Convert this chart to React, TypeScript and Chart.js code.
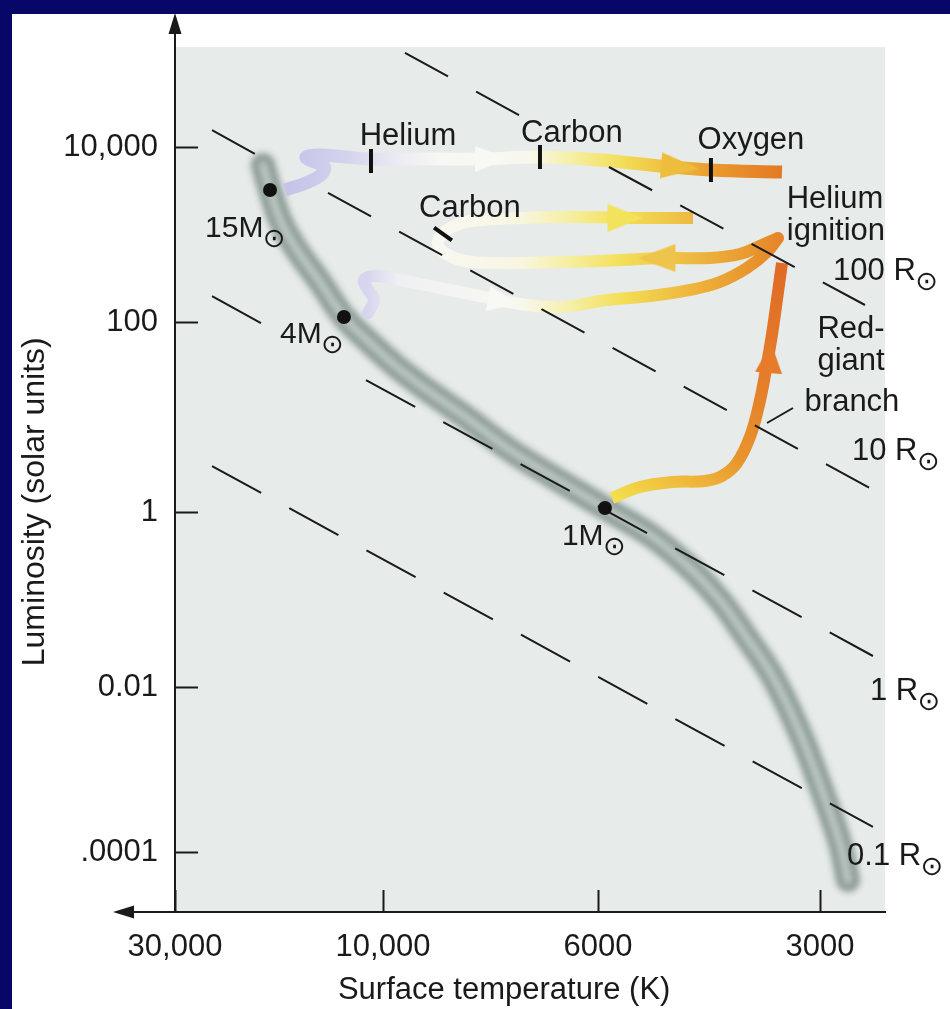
import React, { useEffect, useRef } from 'react';
import { Chart, registerables } from 'chart.js';

Chart.register(...registerables);

// ---------- axis ticks (values and labels) ----------
const X_TICK_T = [30000, 10000, 6000, 3000];
const X_TICK_LABELS = ['30,000', '10,000', '6000', '3000'];
const Y_TICK_L = [10000, 100, 1, 0.01, 0.0001];
const Y_TICK_LABELS = ['10,000', '100', '1', '0.01', '.0001'];
const X_TITLE = 'Surface temperature (K)';
const Y_TITLE = 'Luminosity (solar units)';

// ---------- data: [surface temperature K, luminosity L☉] ----------
type Pt = [number, number] | null;

const MAIN_SEQUENCE: Pt[] = [
  [18850, 6230], [18160, 3226], [17140, 1390], [15750, 665], [13950, 287], [12290, 114],
  [10880, 64.6], [9673, 33.6], [8945, 18.3], [8192, 9.76], [7395, 4.49], [6676, 2.34],
  [5871, 1.1], [5054, 0.518], [4503, 0.229], [4101, 0.0987], [3793, 0.0393], [3474, 0.013],
  [3194, 0.00277], [2973, 0.000519], [2819, 0.0001285], [2749, 0.0000458],
];

const STAR_MASS_LABELS = ['15M', '4M', '1M'];
const STAR_T = [18160, 12290, 5871];
const STAR_L = [3226, 114, 1.1];

const TRACK_15: Pt[] = [
  [16780, 3226], [15020, 3878], [13800, 4914], [13655, 6066], [14550, 6918], [15020, 7688],
  [13950, 8102], [12220, 7688], [10655, 7293], [9160, 7293], [7942, 7293], [6887, 7688],
  [5963, 7103], [4944, 6066], [4217, 5460], [3378, 5179],
];

const TRACK_4_OUT: Pt[] = [
  [10825, 126.7], [10487, 178.4], [10882, 244.7], [11056, 302], [10432, 335.6], [9604, 302],
  [8735, 244.7], [7942, 198.2], [7222, 160.6], [6566, 148.4], [5834, 178.4], [5101, 198.2],
  [4502, 232.2], [4101, 286.6], [3769, 414], [3540, 631], [3420, 912],
];

const TRACK_4_LOOP: Pt[] = [
  [3420, 912], [3596, 758.6], [3852, 598.6], [4230, 538.8], [4777, 538.8], [5263, 524.8],
  [5963, 497.9], [6566, 485], [7574, 472.4], [8231, 497.9], [8610, 598.6], [8776, 758.6],
  [8714, 961.3], [8489, 1218], [8115, 1427], [7222, 1544], [6398, 1585], [5263, 1544], [4460, 1544],
];

const TRACK_1_RGB: Pt[] = [
  [5743, 1.404], [5263, 1.833], [4762, 2.069], [4296, 2.12], [4075, 2.393], [3888, 3.28],
  [3734, 6.158], [3630, 13.37], [3552, 31.23], [3486, 72.96], [3432, 178.4], [3378, 472.4],
];

const BURN_LABELS = ['Helium', 'Carbon', 'Oxygen', 'Carbon'];
const BURN_T = [10655, 6887, 4217, 8672];
const BURN_L = [6918, 7688, 5460, 1013];
const BURN_LABEL_T = [9424, 6384, 3722, 8134];
const BURN_LABEL_L = [10540, 11407, 9487, 1585];

const ARROW_T = [7719, 4645, 5515, 4991, 7520, 3508];
const ARROW_L = [7293, 5908, 1544, 538.8, 173.8, 41.79];

const RADIUS_LABELS = ['100 R', '10 R', '1 R', '0.1 R'];
const RADIUS_LABEL_T = [2880, 2715, 2567, 2757];
const RADIUS_LABEL_L = [302, 3.527, 0.006959, 0.0000696];
const RADIUS_100: Pt[] = [[9491, 118700], [7239, 23210], null, [5798, 5908], [2607, 156.4]];
const RADIUS_10: Pt[] = [[24670, 15640], [19660, 8318], null, [13370, 2981], [2567, 1.789]];
const RADIUS_1: Pt[] = [[24670, 198.2], [19050, 97.6], null, [10940, 24.51], [2543, 0.02261]];
const RADIUS_01: Pt[] = [[24670, 3.049], [2543, 0.000201]];

const NOTE_TEXTS = ['Helium', 'ignition', 'Red-', 'giant', 'branch'];
const NOTE_T = [2863, 2854, 2723, 2723, 2715];
const NOTE_L = [2009, 865, 67.8, 31.2, 11.56];
const LEADER: Pt[] = [[3264, 12.44], [3540, 8.647]];

const STAR_LABEL_T = [25600, 17230, 6537];
const STAR_LABEL_L = [936, 60.1, 0.4196];

// ---------- layout (axis units, not data) ----------
const X_TICK_POS = [0, 208, 423, 645];
const X_MAX = 710;
const Y_TICK_POS = [765, 590, 400, 225, 60];
const Y_MAX = 865;

const FONT = '"Liberation Sans", Arial, Helvetica, sans-serif';
const INK = '#1a1a1a';

function interp(v: number, keys: number[], pos: number[]) {
  const lv = Math.log10(v);
  const lk = keys.map((k) => Math.log10(k));
  let i = 0;
  while (i < lk.length - 2 && lv < lk[i + 1]) i++;
  const t = (lv - lk[i]) / (lk[i + 1] - lk[i]);
  return pos[i] + t * (pos[i + 1] - pos[i]);
}
const xPos = (T: number) => interp(T, X_TICK_T, X_TICK_POS);
const yPos = (L: number) => interp(L, Y_TICK_L, Y_TICK_POS);
const toXY = (pts: Pt[]) =>
  pts.map((p) => (p ? { x: xPos(p[0]), y: yPos(p[1]) } : { x: 0, y: null as any }));

type Stop = [number, string];
const TOP_STOPS: Stop[] = [
  [16340, '#c5c4e8'], [12220, '#d3d2ee'], [9604, '#ececf3'], [8735, '#f7f7f4'], [7053, '#f8f7ee'],
  [6414, '#f6efa6'], [5602, '#f3df5a'], [4792, '#eebd3c'], [4101, '#e9962c'], [3378, '#e47a24'],
];
const OUT_STOPS: Stop[] = [
  [10940, '#d6d4ee'], [9604, '#f0f0f4'], [7222, '#f8f8f0'], [6414, '#f6efa8'], [5602, '#f3df58'],
  [4502, '#eeb63c'], [3852, '#ea9a2f'], [3420, '#e6862a'],
];
const LOOP_STOPS: Stop[] = [
  [8776, '#f8f8f2'], [7222, '#f8f6e0'], [6414, '#f6eea0'], [5602, '#f3e05a'], [4792, '#efc648'],
  [4230, '#ecae3c'], [3769, '#e99a30'], [3420, '#e6862a'],
];
const RGB_STOPS: [number, string][] = [
  [0, '#f3e04c'], [0.22, '#eeb43a'], [0.37, '#e8942e'], [0.6, '#e5802a'], [1, '#e06a26'],
];
const ARROW_COLORS = ['#f8f8f4', '#efbd3d', '#f3e35c', '#efc44a', '#f8f8f4', '#e67c2a'];
const ARROW_ROT = [0, 5, 0, 180, 10, -85];
const ARROW_LEN = [34, 38, 35, 37, 30, 30];
const ARROW_WID = [26, 26, 28, 28, 26, 27];

function gradX(chart: any, stops: Stop[]) {
  const { ctx, chartArea, scales } = chart;
  if (!chartArea || !scales.x) return stops[0][1];
  const xs = stops.map((s) => scales.x.getPixelForValue(xPos(s[0])));
  const x0 = xs[0];
  const x1 = xs[xs.length - 1];
  const g = ctx.createLinearGradient(x0, 0, x1, 0);
  stops.forEach((s, i) => g.addColorStop(Math.min(1, Math.max(0, (xs[i] - x0) / (x1 - x0))), s[1]));
  return g;
}
function gradAlong(chart: any, pts: Pt[], stops: [number, string][]) {
  const { ctx, chartArea, scales } = chart;
  if (!chartArea || !scales.x) return stops[0][1];
  const a = pts[0] as [number, number];
  const b = pts[pts.length - 1] as [number, number];
  const g = ctx.createLinearGradient(
    scales.x.getPixelForValue(xPos(a[0])), scales.y.getPixelForValue(yPos(a[1])),
    scales.x.getPixelForValue(xPos(b[0])), scales.y.getPixelForValue(yPos(b[1])),
  );
  stops.forEach((s) => g.addColorStop(s[0], s[1]));
  return g;
}

function makeArrow(color: string, len: number, wid: number) {
  const s = Math.ceil(Math.max(len, wid)) + 4;
  const c = document.createElement('canvas');
  c.width = s;
  c.height = s;
  const g = c.getContext('2d')!;
  g.fillStyle = color;
  g.beginPath();
  g.moveTo(s / 2 + len / 2, s / 2);
  g.lineTo(s / 2 - len / 2, s / 2 - wid / 2);
  g.lineTo(s / 2 - len / 2, s / 2 + wid / 2);
  g.closePath();
  g.fill();
  return c;
}

const backgroundPlugin = {
  id: 'bg',
  beforeDraw(chart: any) {
    const { ctx, chartArea: a, width, height } = chart;
    ctx.save();
    ctx.fillStyle = '#07076a';
    ctx.fillRect(0, 0, width, height);
    ctx.fillStyle = '#ffffff';
    ctx.fillRect(12, 14, width - 12, height - 14);
    ctx.fillStyle = '#e7ebe9';
    ctx.fillRect(a.left, a.top, a.right - a.left, a.bottom - a.top);
    ctx.restore();
  },
  afterDraw(chart: any) {
    const { ctx, chartArea: a } = chart;
    ctx.save();
    ctx.strokeStyle = INK;
    ctx.fillStyle = INK;
    ctx.lineWidth = 2;
    ctx.beginPath();
    ctx.moveTo(a.left, a.top);
    ctx.lineTo(a.left, 30);
    ctx.moveTo(a.left, a.bottom);
    ctx.lineTo(130, a.bottom);
    ctx.stroke();
    ctx.beginPath();
    ctx.moveTo(a.left, 13);
    ctx.lineTo(a.left - 6.5, 34);
    ctx.lineTo(a.left + 6.5, 34);
    ctx.closePath();
    ctx.fill();
    ctx.beginPath();
    ctx.moveTo(113, a.bottom);
    ctx.lineTo(134, a.bottom - 6.5);
    ctx.lineTo(134, a.bottom + 6.5);
    ctx.closePath();
    ctx.fill();
    ctx.restore();
  },
};

const blurPlugin = {
  id: 'blur',
  beforeDatasetDraw(chart: any, args: any) {
    const ds = chart.data.datasets[args.index];
    if (ds.blur) {
      chart.ctx.save();
      chart.ctx.filter = `blur(${ds.blur}px)`;
    }
  },
  afterDatasetDraw(chart: any, args: any) {
    const ds = chart.data.datasets[args.index];
    if (ds.blur) chart.ctx.restore();
  },
};

const labelPlugin = {
  id: 'labels',
  afterDatasetsDraw(chart: any) {
    const { ctx, scales } = chart;
    const px = (T: number) => scales.x.getPixelForValue(xPos(T));
    const py = (L: number) => scales.y.getPixelForValue(yPos(L));
    ctx.save();
    ctx.fillStyle = INK;
    ctx.textBaseline = 'alphabetic';
    ctx.textAlign = 'center';
    ctx.font = `31px ${FONT}`;
    BURN_LABELS.forEach((t, i) => ctx.fillText(t, px(BURN_LABEL_T[i]), py(BURN_LABEL_L[i])));
    NOTE_TEXTS.forEach((t, i) => ctx.fillText(t, px(NOTE_T[i]), py(NOTE_L[i])));
    const sunLabel = (t: string, T: number, L: number, size: number) => {
      const x = px(T);
      const y = py(L);
      ctx.font = `${size}px ${FONT}`;
      ctx.textAlign = 'left';
      ctx.fillText(t, x, y);
      const w = ctx.measureText(t).width;
      ctx.font = `27px "DejaVu Sans"`;
      ctx.textAlign = 'center';
      ctx.fillText('⊙', x + w + 11, y + 10);
    };
    STAR_MASS_LABELS.forEach((t, i) => sunLabel(t, STAR_LABEL_T[i], STAR_LABEL_L[i], 30));
    RADIUS_LABELS.forEach((t, i) => sunLabel(t, RADIUS_LABEL_T[i], RADIUS_LABEL_L[i], 31));
    ctx.restore();
  },
};

export default function App() {
  const ref = useRef<HTMLCanvasElement>(null);

  useEffect(() => {
    document.body.style.margin = '0';
    const canvas = ref.current!;
    const arrows = ARROW_COLORS.map((c, i) => makeArrow(c, ARROW_LEN[i], ARROW_WID[i]));

    const lineDs = (pts: Pt[], extra: any) => ({
      data: toXY(pts),
      pointRadius: 0,
      pointHoverRadius: 0,
      pointHitRadius: 0,
      fill: false,
      spanGaps: false,
      ...extra,
    });
    const dash = (pts: Pt[], pattern: number[]) =>
      lineDs(pts, { borderColor: INK, borderWidth: 2, borderDash: pattern, tension: 0, borderCapStyle: 'butt' });

    const datasets: any[] = [
      {
        data: STAR_T.map((T, i) => ({ x: xPos(T), y: yPos(STAR_L[i]) })),
        showLine: false,
        pointRadius: 7,
        pointHoverRadius: 7,
        pointBackgroundColor: '#111111',
        pointBorderWidth: 0,
      },
      {
        data: BURN_T.map((T, i) => ({ x: xPos(T), y: yPos(BURN_L[i]) })),
        showLine: false,
        pointStyle: 'line',
        pointRadius: [12, 12, 12, 11],
        pointHoverRadius: [12, 12, 12, 11],
        pointRotation: [90, 90, 90, 36],
        pointBorderWidth: 4,
        pointBorderColor: '#111111',
      },
      {
        data: ARROW_T.map((T, i) => ({ x: xPos(T), y: yPos(ARROW_L[i]) })),
        showLine: false,
        pointStyle: (c: any) => arrows[c.dataIndex] || 'triangle',
        pointRotation: ARROW_ROT,
        pointRadius: 10,
        pointHoverRadius: 10,
      },
      dash(RADIUS_100, [49, 32]),
      dash(RADIUS_10, [49, 32]),
      dash(RADIUS_1, [56, 32]),
      dash(RADIUS_01, [56, 32]),
      lineDs(LEADER, { borderColor: INK, borderWidth: 2, tension: 0 }),
      lineDs(TRACK_15, {
        borderColor: (c: any) => gradX(c.chart, TOP_STOPS),
        borderWidth: 13,
        tension: 0.4,
        borderCapStyle: 'butt',
        borderJoinStyle: 'round',
      }),
      lineDs(TRACK_4_LOOP, {
        borderColor: (c: any) => gradX(c.chart, LOOP_STOPS),
        borderWidth: 12,
        tension: 0.4,
        borderCapStyle: 'butt',
        borderJoinStyle: 'round',
      }),
      lineDs(TRACK_4_OUT, {
        borderColor: (c: any) => gradX(c.chart, OUT_STOPS),
        borderWidth: 12,
        tension: 0.4,
        borderCapStyle: 'round',
        borderJoinStyle: 'round',
      }),
      lineDs(TRACK_1_RGB, {
        borderColor: (c: any) => gradAlong(c.chart, TRACK_1_RGB, RGB_STOPS),
        borderWidth: 12,
        tension: 0.4,
        borderCapStyle: 'butt',
        borderJoinStyle: 'round',
      }),
      lineDs(MAIN_SEQUENCE, {
        borderColor: 'rgba(196,206,202,0.9)',
        borderWidth: 8,
        tension: 0.4,
        borderCapStyle: 'round',
        blur: 3,
      }),
      lineDs(MAIN_SEQUENCE, {
        borderColor: '#8c9b96',
        borderWidth: 24,
        tension: 0.4,
        borderCapStyle: 'round',
        blur: 3,
      }),
    ];

    const chart = new Chart(canvas, {
      type: 'line',
      data: { datasets },
      plugins: [backgroundPlugin, blurPlugin, labelPlugin],
      options: {
        animation: false,
        responsive: false,
        maintainAspectRatio: false,
        devicePixelRatio: 1,
        events: [],
        layout: { padding: { left: 0, top: 47, right: 65, bottom: 0 } },
        plugins: { legend: { display: false }, tooltip: { enabled: false } },
        scales: {
          x: {
            type: 'linear',
            position: 'bottom',
            min: 0,
            max: X_MAX,
            afterFit: (s: any) => {
              s.height = 97;
              s.paddingLeft = 0;
              s.paddingRight = 0;
              s.paddingTop = 0;
              s.paddingBottom = 0;
            },
            afterBuildTicks: (s: any) => {
              s.ticks = X_TICK_T.map((T) => ({ value: xPos(T) }));
            },
            ticks: {
              autoSkip: false,
              maxRotation: 0,
              minRotation: 0,
              padding: 39,
              color: INK,
              font: { family: FONT, size: 31 },
              callback: (v: any) => {
                const i = X_TICK_T.findIndex((T) => Math.abs(xPos(T) - v) < 0.5);
                return i >= 0 ? X_TICK_LABELS[i] : '';
              },
            },
            grid: {
              display: true,
              drawOnChartArea: false,
              drawTicks: true,
              tickLength: -22,
              tickWidth: 2,
              tickColor: INK,
            },
            border: { display: true, color: INK, width: 2 },
            title: {
              display: true,
              text: X_TITLE + '      ',
              color: INK,
              font: { family: FONT, size: 31 },
              padding: { top: 0, bottom: 0 },
            },
          },
          y: {
            type: 'linear',
            position: 'left',
            min: 0,
            max: Y_MAX,
            afterFit: (s: any) => {
              s.width = 175;
              s.paddingLeft = 0;
              s.paddingRight = 0;
              s.paddingTop = 0;
              s.paddingBottom = 0;
            },
            afterBuildTicks: (s: any) => {
              s.ticks = Y_TICK_L.map((L) => ({ value: yPos(L) }));
            },
            ticks: {
              autoSkip: false,
              padding: 40,
              color: INK,
              font: { family: FONT, size: 31 },
              callback: (v: any) => {
                const i = Y_TICK_L.findIndex((L) => Math.abs(yPos(L) - v) < 0.5);
                return i >= 0 ? Y_TICK_LABELS[i] : '';
              },
            },
            grid: {
              display: true,
              drawOnChartArea: false,
              drawTicks: true,
              tickLength: -23,
              tickWidth: 2,
              tickColor: INK,
            },
            border: { display: true, color: INK, width: 2 },
            title: {
              display: true,
              text: Y_TITLE + '     ',
              color: INK,
              font: { family: FONT, size: 32 },
              padding: { top: 16, bottom: 0 },
            },
          },
        },
      } as any,
    });

    return () => chart.destroy();
  }, []);

  return (
    <div style={{ width: 950, height: 1009, overflow: 'hidden' }}>
      <canvas ref={ref} width={950} height={1009} style={{ display: 'block' }} />
    </div>
  );
}
